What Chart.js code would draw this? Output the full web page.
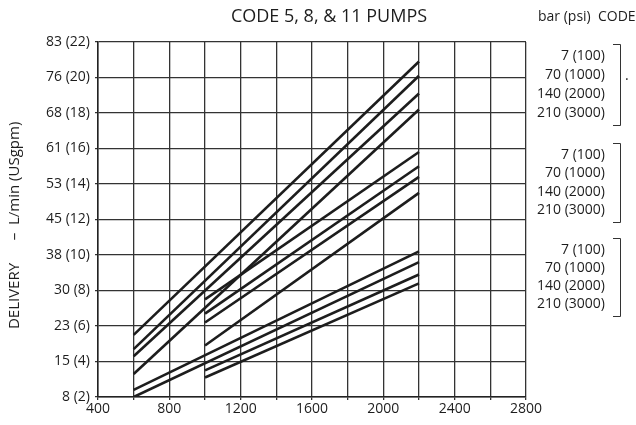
<!DOCTYPE html>
<html>
<head>
<meta charset="utf-8">
<script src="https://cdn.jsdelivr.net/npm/chart.js@4"></script>
<style>
  html, body { margin: 0; padding: 0; background: #fff; }
  #wrap { width: 636px; height: 425px; }
</style>
</head>
<body>
<div id="wrap"><canvas id="chart" width="636" height="425"></canvas></div>
<script>
// Delivery (USgpm) at the start and end shaft speed (rpm) of each curve
const pressures = ['7 (100)', '70 (1000)', '140 (2000)', '210 (3000)'];

const highRpm = [[600, 2200], [600, 2200], [600, 2200], [600, 2200]];
const highFlow = [[5.5, 20.9], [4.7, 20.1], [4.3, 19.1], [3.3, 18.2]];

const midRpm = [[1000, 2200], [1000, 2200], [1000, 2200], [1000, 2200]];
const midFlow = [[7.5, 15.8], [6.7, 15.0], [6.2, 14.4], [4.9, 13.5]];

const lowRpm = [[600, 2200], [600, 2200], [1000, 2200], [1000, 2200]];
const lowFlow = [[2.4, 10.2], [2.0, 9.6], [3.5, 8.9], [3.1, 8.4]];

// Y tick labels: L/min (USgpm), axis runs 2..22 USgpm
const yTickLabels = ['8 (2)', '15 (4)', '23 (6)', '30 (8)', '38 (10)', '45 (12)',
  '53 (14)', '61 (16)', '68 (18)', '76 (20)', '83 (22)'];
const xTickLabels = [400, 800, 1200, 1600, 2000, 2400, 2800];

const FONT = '"Open Sans", "DejaVu Sans", sans-serif';
const INK = '#1d1d1d';

function makeSets(rpm, flow) {
  return flow.map((f, i) => ({
    data: [{ x: rpm[i][0], y: f[0] }, { x: rpm[i][1], y: f[1] }],
    borderColor: INK,
    borderWidth: 2.6,
    pointRadius: 0,
    showLine: true,
    fill: false
  }));
}

const datasets = [
  ...makeSets(highRpm, highFlow),
  ...makeSets(midRpm, midFlow),
  ...makeSets(lowRpm, lowFlow)
];

// Title, axis caption and the pressure legend on the right
const annotations = {
  id: 'annotations',
  afterDraw(chart) {
    const c = chart.ctx;
    c.save();
    c.fillStyle = INK;
    c.textBaseline = 'middle';

    c.font = '18px ' + FONT;
    c.textAlign = 'center';
    c.fillText('CODE 5, 8, & 11 PUMPS', 329, 17);

    c.font = '14px ' + FONT;
    c.textAlign = 'left';
    c.fillText('bar (psi)  CODE', 538, 17);
    c.fillText('.', 625, 76);

    // rotated y-axis caption
    c.save();
    c.translate(15, 0);
    c.rotate(-Math.PI / 2);
    c.textAlign = 'center';
    c.font = '15px ' + FONT;
    c.fillText('DELIVERY', -296, 0);
    c.fillText('\u2013  L/min (USgpm)', -181, 0);
    c.restore();

    // three bracketed groups of pressure labels
    const groups = [[44, 125], [143, 222], [238, 316]];
    c.font = '14px ' + FONT;
    c.textAlign = 'right';
    c.strokeStyle = '#333';
    c.lineWidth = 1;
    groups.forEach(([top, bottom]) => {
      const step = (bottom - top) / 4.3;
      pressures.forEach((p, i) => {
        c.fillText(p, 605, top + step * (i + 0.65));
      });
      c.beginPath();
      c.moveTo(613, top + 0.5);
      c.lineTo(620.5, top + 0.5);
      c.lineTo(620.5, bottom + 0.5);
      c.lineTo(613, bottom + 0.5);
      c.stroke();
    });
    c.restore();
  }
};

new Chart(document.getElementById('chart'), {
  type: 'scatter',
  data: { datasets },
  options: {
    responsive: false,
    animation: false,
    events: [],
    layout: { padding: { left: 0, right: 110, top: 42, bottom: 0 } },
    plugins: {
      legend: { display: false },
      tooltip: { enabled: false }
    },
    scales: {
      x: {
        type: 'linear',
        min: 400,
        max: 2800,
        afterFit: s => { s.height = 28; },
        afterBuildTicks: s => {
          const t = [];
          for (let v = 400; v <= 2800; v += 200) t.push({ value: v });
          s.ticks = t;
        },
        ticks: {
          autoSkip: false,
          maxRotation: 0,
          padding: 1,
          color: INK,
          font: { family: FONT, size: 14 },
          callback: v => xTickLabels.includes(v) ? String(v) : ''
        },
        grid: { color: '#333', lineWidth: 1.3, tickLength: 3 },
        border: { color: '#222', width: 1.5 }
      },
      y: {
        type: 'linear',
        min: 2,
        max: 22,
        afterFit: s => { s.width = 98; },
        ticks: {
          stepSize: 2,
          autoSkip: false,
          padding: 5,
          color: INK,
          font: { family: FONT, size: 14 },
          callback: (v, i) => yTickLabels[i]
        },
        grid: { color: '#333', lineWidth: 1.3, tickLength: 3 },
        border: { color: '#222', width: 1.5 }
      }
    }
  },
  plugins: [annotations]
});
</script>
</body>
</html>
